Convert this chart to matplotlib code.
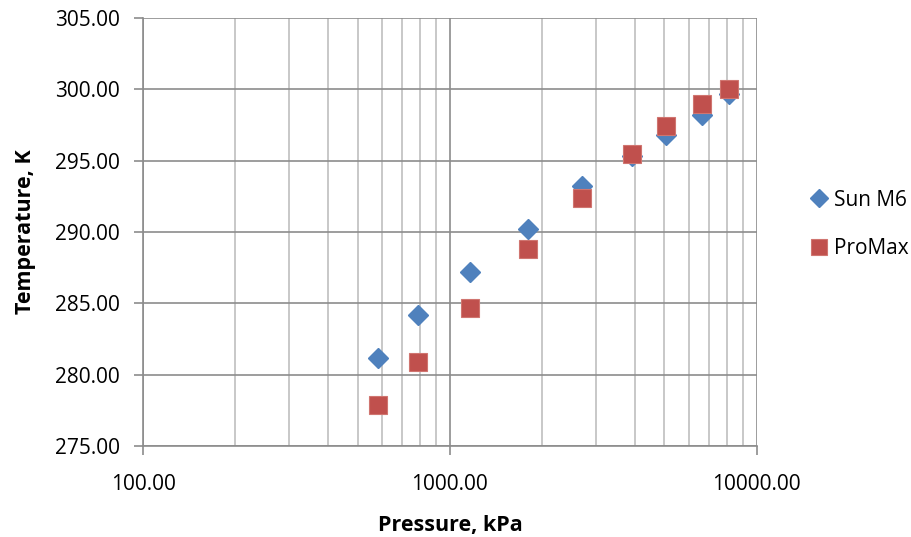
import numpy as np
import matplotlib.pyplot as plt
from matplotlib.ticker import FixedLocator, LogLocator, NullFormatter, FuncFormatter

# pressure points (kPa) and temperatures (K) for the two models
pressure = [581, 785, 1159, 1791, 2698, 3927, 5053, 6607, 8129]
temp_sun = [281.2, 284.2, 287.2, 290.2, 293.2, 295.3, 296.8, 298.2, 299.7]
temp_promax = [277.9, 280.9, 284.7, 288.8, 292.4, 295.5, 297.4, 299.0, 300.0]

y_ticks = [275, 280, 285, 290, 295, 300, 305]
x_ticks = [100, 1000, 10000]

plt.rcParams['font.family'] = ['Open Sans', 'DejaVu Sans']

fig = plt.figure(figsize=(9.12, 5.37), dpi=100)
ax = fig.add_axes([0.1568, 0.1695, 0.673, 0.797])

ax.plot(pressure, temp_sun, linestyle='none', marker='D', markersize=10.5,
        color='#4F81BD', markeredgecolor='#4F81BD', label='Sun M6', zorder=3)
ax.plot(pressure, temp_promax, linestyle='none', marker='s', markersize=13.5,
        color='#C0504D', markeredgecolor='#D07570', markeredgewidth=0.8,
        label='ProMax', zorder=3)

ax.set_xscale('log')
ax.set_xlim(100, 10000)
ax.set_ylim(275, 305)
ax.xaxis.set_major_locator(FixedLocator(x_ticks))
ax.xaxis.set_minor_locator(LogLocator(base=10, subs=np.arange(2, 10)))
ax.xaxis.set_minor_formatter(NullFormatter())
ax.xaxis.set_major_formatter(FuncFormatter(lambda v, p: f'{v:.2f}'))
ax.yaxis.set_major_locator(FixedLocator(y_ticks))
ax.yaxis.set_major_formatter(FuncFormatter(lambda v, p: f'{v:.2f}'))

ax.grid(True, which='major', color='#8c8c8c', linewidth=1.2)
ax.grid(True, which='minor', axis='x', color='#bfbfbf', linewidth=1.2)
ax.set_axisbelow(True)

for side in ['top', 'right']:
    ax.spines[side].set_visible(False)
for side in ['left', 'bottom']:
    ax.spines[side].set_color('#8c8c8c')
    ax.spines[side].set_linewidth(1.2)

ax.tick_params(axis='both', which='major', direction='out', length=6.5,
               color='#8c8c8c', width=1.2, labelsize=15)
ax.tick_params(axis='y', which='major', pad=10)
ax.tick_params(axis='x', which='major', pad=14)
ax.tick_params(axis='x', which='minor', length=0)

ax.set_xlabel('Pressure, kPa', fontsize=15.5, fontweight='bold', labelpad=14)
ax.set_ylabel('Temperature, K', fontsize=15.5, fontweight='bold', labelpad=14)

ax.legend(loc='center left', bbox_to_anchor=(1.058, 0.518), frameon=False,
          fontsize=15, handlelength=0.8, handletextpad=0.3, labelspacing=1.3,
          markerscale=0.85)

fig.savefig('out.png', dpi=100)
